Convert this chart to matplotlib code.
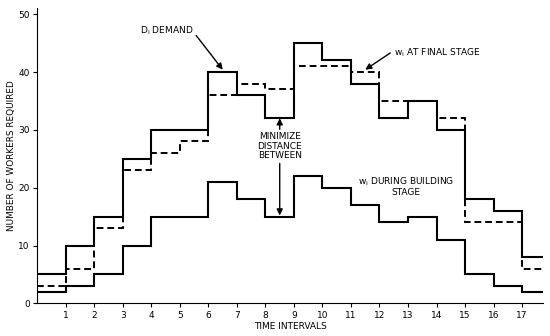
import numpy as np
import matplotlib
matplotlib.use("Agg")
import matplotlib.pyplot as plt

# valores por intervalo de tiempo (0-1, 1-2, ..., 17-18)
intervalos = np.arange(0, 19)
demanda = [5, 10, 15, 25, 30, 30, 40, 36, 32, 45, 42, 38, 32, 35, 30, 18, 16, 8]
w_final = [3, 6, 13, 23, 26, 28, 36, 38, 37, 41, 41, 40, 35, 35, 32, 14, 14, 6]
w_construccion = [2, 3, 5, 10, 15, 15, 21, 18, 15, 22, 20, 17, 14, 15, 11, 5, 3, 2]
ticks_x = list(range(1, 18))
ticks_y = [0, 10, 20, 30, 40, 50]

plt.rcParams["font.family"] = "DejaVu Sans"
fig = plt.figure(figsize=(5.5, 3.36), dpi=100)
ax = fig.add_axes([0.068, 0.097, 0.919, 0.878])

ax.stairs(demanda, intervalos, baseline=None, color="black", lw=1.5)
ax.stairs(w_final, intervalos, baseline=None, color="black", lw=1.4, linestyle=(0, (3.5, 2)))
ax.stairs(w_construccion, intervalos, baseline=None, color="black", lw=1.5)

ax.set_xlim(0, 17.73)
ax.set_ylim(0, 51)
ax.set_xticks(ticks_x)
ax.set_yticks(ticks_y)
ax.tick_params(labelsize=6.5, length=3, width=0.8, pad=2.5)
for s in ["top", "right"]:
    ax.spines[s].set_visible(False)
ax.set_xlabel("TIME INTERVALS", fontsize=6.5, labelpad=1.5)
ax.set_ylabel("NUMBER OF WORKERS REQUIRED", fontsize=6.4, labelpad=1.5)

flecha = dict(arrowstyle="-|>", color="black", lw=1, mutation_scale=9, shrinkA=0, shrinkB=0)

ax.annotate(r"D$_\mathregular{i}$ DEMAND", xy=(6.5, 40.4), xytext=(3.6, 47.2),
            fontsize=6.5, ha="left", va="center", arrowprops=dict(flecha, relpos=(1.05, 0.1)))
ax.annotate(r"w$_\mathregular{i}$ AT FINAL STAGE", xy=(11.5, 40.4), xytext=(12.5, 43.3),
            fontsize=6.5, ha="left", va="center", arrowprops=dict(flecha, relpos=(-0.04, 0.5)))

ax.text(8.5, 27.2, "MINIMIZE\nDISTANCE\nBETWEEN", fontsize=6.5, ha="center", va="center",
        linespacing=1.05)
ax.annotate("", xy=(8.5, 32.0), xytext=(8.5, 30.1), arrowprops=flecha)
ax.annotate("", xy=(8.5, 15.2), xytext=(8.5, 24.2), arrowprops=flecha)

ax.text(12.93, 20.2, "w$_\\mathregular{i}$ DURING BUILDING\nSTAGE", fontsize=6.5, ha="center",
        va="center", linespacing=1.0)

fig.savefig("out.png", dpi=100)
